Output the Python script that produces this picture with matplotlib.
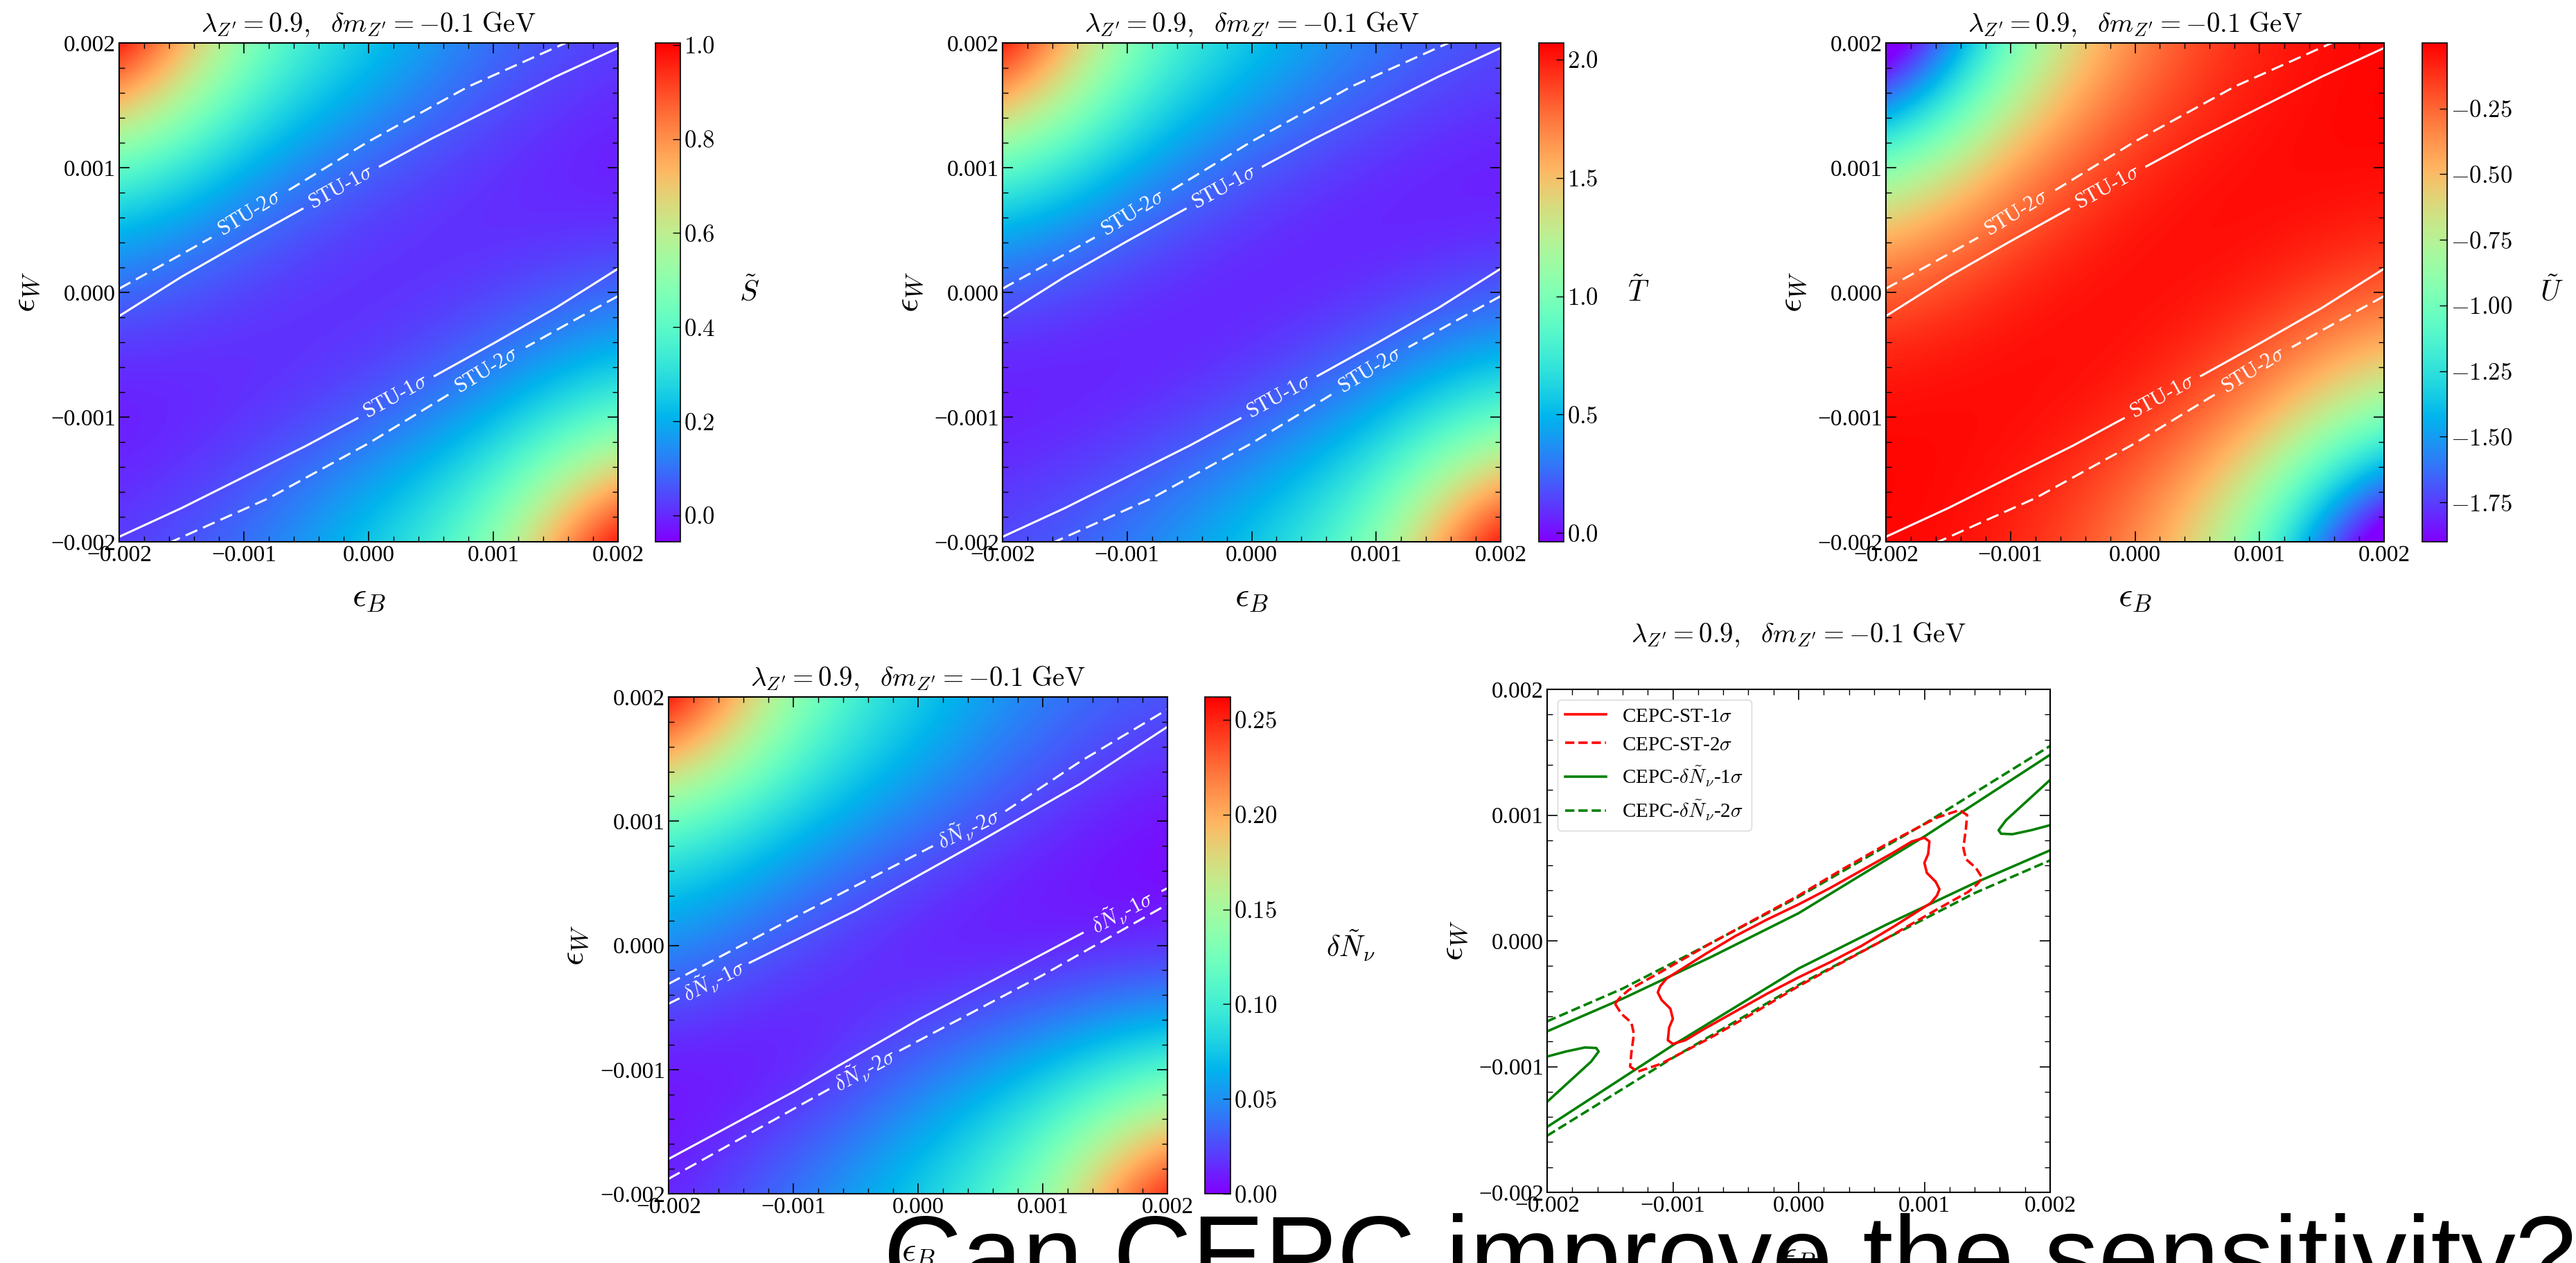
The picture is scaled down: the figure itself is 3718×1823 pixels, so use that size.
import numpy as np
import matplotlib
matplotlib.use('Agg')
import matplotlib.pyplot as plt
from matplotlib.ticker import MultipleLocator, AutoMinorLocator, FuncFormatter

plt.rcParams['font.family'] = 'serif'
plt.rcParams['font.serif'] = ['Liberation Serif', 'DejaVu Serif']
plt.rcParams['mathtext.fontset'] = 'cm'

# grid nodes (eps_B columns, eps_W rows from top to bottom)
eps_nodes = [-0.002, -0.001, 0.0, 0.001, 0.002]

# field values
S_grid = [[1.20, 0.48, 0.27, 0.10, 0.03],
          [0.38, 0.17, 0.05, -0.01, -0.045],
          [0.07, 0.01, -0.02, 0.01, 0.07],
          [-0.045, -0.01, 0.05, 0.17, 0.38],
          [0.03, 0.10, 0.27, 0.48, 1.20]]
T_grid = [[2.45, 1.00, 0.60, 0.32, 0.17],
          [0.85, 0.42, 0.17, 0.04, 0.0],
          [0.15, 0.05, 0.0, 0.05, 0.15],
          [0.0, 0.04, 0.17, 0.42, 0.85],
          [0.17, 0.32, 0.60, 1.00, 2.45]]
U_grid = [[-2.50, -1.00, -0.33, -0.07, -0.01],
          [-0.92, -0.33, -0.06, -0.005, 0.0],
          [-0.18, -0.04, 0.0, -0.04, -0.18],
          [0.0, -0.005, -0.06, -0.33, -0.92],
          [-0.01, -0.07, -0.33, -1.00, -2.50]]
N_grid = [[0.31, 0.135, 0.08, 0.045, 0.03],
          [0.11, 0.07, 0.04, 0.015, 0.0],
          [0.052, 0.021, 0.0, 0.0, 0.005],
          [0.0, 0.0, 0.035, 0.065, 0.10],
          [0.01, 0.045, 0.08, 0.135, 0.30]]

S_range = (-0.056, 1.004)
T_range = (-0.037, 2.07)
U_range = (-1.90, 0.0)
N_range = (0.0, 0.262)

S_ticks = [0.0, 0.2, 0.4, 0.6, 0.8, 1.0]
T_ticks = [0.0, 0.5, 1.0, 1.5, 2.0]
U_ticks = [-1.75, -1.5, -1.25, -1.0, -0.75, -0.5, -0.25]
N_ticks = [0.0, 0.05, 0.10, 0.15, 0.20, 0.25]

# STU contours (split where the inline label sits)
stu1_up = [([-0.002, -0.0015, -0.001, -0.00053], [-0.00019, 0.000125, 0.00041, 0.00067]),
           ([0.00009, 0.0005, 0.001, 0.0015, 0.002], [0.00101, 0.00123, 0.00148, 0.00173, 0.00196])]
stu2_up = [([-0.002, -0.0016, -0.00126], [0.00003, 0.00025, 0.00044]),
           ([-0.00064, 0.0, 0.0008, 0.00158], [0.00082, 0.00121, 0.00165, 0.002])]
stu1_lo = [([0.002, 0.0015, 0.001, 0.00053], [0.00019, -0.000125, -0.00041, -0.00067]),
           ([-0.00009, -0.0005, -0.001, -0.0015, -0.002], [-0.00101, -0.00123, -0.00148, -0.00173, -0.00196])]
stu2_lo = [([0.002, 0.0016, 0.00126], [-0.00003, -0.00025, -0.00044]),
           ([0.00064, 0.0, -0.0008, -0.00158], [-0.00082, -0.00121, -0.00165, -0.002])]

# delta N_nu contours
dn1_up = [([-0.002, -0.00192], [-0.00047, -0.00043]),
          ([-0.00135, -0.0005, 0.0005, 0.0013, 0.002], [-0.00014, 0.00028, 0.00084, 0.0013, 0.00176])]
dn2_up = [([-0.002, -0.001, 0.00012], [-0.00031, 0.00022, 0.0008]),
          ([0.0007, 0.0013, 0.002], [0.00108, 0.00148, 0.0019])]
dn1_lo = [([-0.002, -0.001, 0.0, 0.00132], [-0.00172, -0.00118, -0.0006, 0.0001]),
          ([0.00196, 0.002], [0.00044, 0.00046])]
dn2_lo = [([-0.002, -0.0007], [-0.00188, -0.00115]),
          ([-0.00015, 0.001, 0.002], [-0.00085, -0.00024, 0.00033])]

# CEPC projections
st1_x = [-0.00105, -0.00075, -0.0005, -0.00025, 0.0, 0.00025, 0.0005, 0.00075, 0.0009, 0.00100,
         0.00104, 0.00103, 0.00100, 0.00102, 0.00109, 0.00112, 0.00110, 0.00105,
         0.00075, 0.0005, 0.00025, 0.0, -0.00025, -0.0005, -0.00075, -0.0009, -0.00100,
         -0.00104, -0.00103, -0.00100, -0.00102, -0.00109, -0.00112, -0.00110, -0.00105]
st1_y = [-0.00030, -0.00011, 0.00004, 0.00017, 0.00029, 0.00042, 0.00056, 0.00070, 0.00079, 0.00082,
         0.00079, 0.00069, 0.00062, 0.00054, 0.00047, 0.00041, 0.00036, 0.00030,
         0.00011, -0.00004, -0.00017, -0.00029, -0.00042, -0.00056, -0.00070, -0.00079, -0.00082,
         -0.00079, -0.00069, -0.00062, -0.00054, -0.00047, -0.00041, -0.00036, -0.00030]
st2_x = [-0.00146, -0.00142, -0.00135, -0.0011, -0.0007, -0.00035, 0.0, 0.00035, 0.0007, 0.0011, 0.00128,
         0.00134, 0.00133, 0.00131, 0.00133, 0.00141, 0.00146,
         0.00142, 0.00135, 0.0011, 0.0007, 0.00035, 0.0, -0.00035, -0.0007, -0.0011, -0.00128,
         -0.00134, -0.00133, -0.00131, -0.00133, -0.00141, -0.00146]
st2_y = [-0.0005, -0.00045, -0.00039, -0.00025, -0.00002, 0.00017, 0.00036, 0.00057, 0.00077, 0.00098, 0.00104,
         0.0010, 0.00089, 0.00074, 0.00065, 0.00058, 0.0005,
         0.00045, 0.00039, 0.00025, 0.00002, -0.00017, -0.00036, -0.00057, -0.00077, -0.00098, -0.00104,
         -0.0010, -0.00089, -0.00074, -0.00065, -0.00058, -0.0005]
gn1_bands = [([-0.002, -0.0014, -0.0007, 0.0, 0.001, 0.002], [-0.00072, -0.00046, -0.00013, 0.00022, 0.00083, 0.00148]),
             ([-0.002, -0.001, 0.0, 0.0007, 0.0014, 0.002], [-0.00148, -0.00083, -0.00022, 0.00013, 0.00046, 0.00072])]
gn2_bands = [([-0.002, -0.0014, -0.0007, 0.0, 0.001, 0.002], [-0.00064, -0.00038, -0.00002, 0.00035, 0.00093, 0.00155]),
             ([-0.002, -0.001, 0.0, 0.0007, 0.0014, 0.002], [-0.00155, -0.00093, -0.00035, 0.00002, 0.00038, 0.00064])]
gn1_islands = [([-0.002, -0.00185, -0.0017, -0.00161, -0.00159, -0.00165, -0.00177, -0.002],
                [-0.00092, -0.00088, -0.000848, -0.000852, -0.00088, -0.00096, -0.00107, -0.00128]),
               ([0.002, 0.00185, 0.0017, 0.00161, 0.00159, 0.00165, 0.00177, 0.002],
                [0.00092, 0.00088, 0.000848, 0.000852, 0.00088, 0.00096, 0.00107, 0.00128])]

title = r'$\lambda_{Z^{\prime}}=0.9,\ \ \delta m_{Z^{\prime}}=-0.1\ \mathrm{GeV}$'

W, H = 3718, 1823
fig = plt.figure(figsize=(W / 100, H / 100), dpi=100)


def px_axes(x0, x1, y0, y1):
    return fig.add_axes([x0 / W, 1 - y1 / H, (x1 - x0) / W, (y1 - y0) / H])


def tick_fmt(v, p):
    if abs(v) < 1e-9:
        v = 0.0
    return f'{v:.3f}'.replace('-', '\u2212')


def frame(ax, tpad, xl_y, yl_x):
    ax.set_xlim(-0.002, 0.002)
    ax.set_ylim(-0.002, 0.002)
    for a in (ax.xaxis, ax.yaxis):
        a.set_major_locator(MultipleLocator(0.001))
        a.set_minor_locator(AutoMinorLocator(5))
        a.set_major_formatter(FuncFormatter(tick_fmt))
    ax.tick_params(which='both', direction='in', top=True, right=True, labelsize=24)
    ax.tick_params(which='major', length=11, width=1.2)
    ax.tick_params(which='minor', length=6, width=1.0)
    for s in ax.spines.values():
        s.set_linewidth(1.5)
    ax.set_xlabel(r'$\epsilon_B$', fontsize=36)
    ax.set_ylabel(r'$\epsilon_W$', fontsize=36)
    ax.xaxis.set_label_coords(0.5, xl_y)
    ax.yaxis.set_label_coords(yl_x, 0.5)
    ax.set_title(title, fontsize=28, pad=tpad)


def heat(ax, grid, rng):
    step = eps_nodes[1] - eps_nodes[0]
    ext = [eps_nodes[0] - step / 2, eps_nodes[-1] + step / 2,
           eps_nodes[0] - step / 2, eps_nodes[-1] + step / 2]
    im = ax.imshow(np.array(grid), extent=ext, origin='upper', cmap='rainbow',
                   vmin=rng[0], vmax=rng[1], interpolation='bicubic',
                   interpolation_stage='data', aspect='auto')
    return im


def cbar(im, cax, ticks, dec, label, lab_x):
    cb = fig.colorbar(im, cax=cax, ticks=ticks)
    cb.ax.yaxis.set_major_formatter(FuncFormatter(lambda v, p: f'${v:.{dec}f}$'))
    cb.ax.tick_params(direction='in', length=8, width=1.0, labelsize=25)
    cb.outline.set_linewidth(1.2)
    cb.ax.text(lab_x, 0.5, label, transform=cb.ax.transAxes, fontsize=30,
               ha='center', va='center')


def contour_set(ax, segs, dashed, labels):
    w_px = ax.get_position().width * W
    h_px = ax.get_position().height * H
    for xs, ys in segs:
        ln, = ax.plot(xs, ys, color='white', lw=2.2)
        if dashed:
            ln.set_dashes((6, 3))
    (xa, ya), (xb, yb) = segs[0], segs[1]
    p, q = (xa[-1], ya[-1]), (xb[0], yb[0])
    ang = np.degrees(np.arctan2((q[1] - p[1]) * h_px, (q[0] - p[0]) * w_px))
    if ang > 90:
        ang -= 180
    if ang < -90:
        ang += 180
    ax.text((p[0] + q[0]) / 2, (p[1] + q[1]) / 2, labels, color='white', fontsize=22,
            rotation=ang, rotation_mode='anchor', ha='center', va='center')


# top row
tops = [(172, 892, 946, 982, S_grid, S_range, S_ticks, 1, r'$\tilde{S}$', 3.75),
        (1447, 2166, 2221, 2257, T_grid, T_range, T_ticks, 1, r'$\tilde{T}$', 4.0),
        (2722, 3441, 3496, 3532, U_grid, U_range, U_ticks, 2, r'$\tilde{U}$', 5.2)]
for x0, x1, c0, c1, grid, rng, ticks, dec, lab, lx in tops:
    ax = px_axes(x0, x1, 62, 782)
    im = heat(ax, grid, rng)
    frame(ax, 12, -0.08, -0.155)
    contour_set(ax, stu2_up, True, r'STU-2$\sigma$')
    contour_set(ax, stu1_up, False, r'STU-1$\sigma$')
    contour_set(ax, stu1_lo, False, r'STU-1$\sigma$')
    contour_set(ax, stu2_lo, True, r'STU-2$\sigma$')
    cax = px_axes(c0, c1, 62, 782)
    cbar(im, cax, ticks, dec, lab, lx)

# bottom left
ax4 = px_axes(965, 1685, 1006, 1723)
im4 = heat(ax4, N_grid, N_range)
frame(ax4, 12, -0.086, -0.156)
contour_set(ax4, dn2_up, True, r'$\delta\tilde{N}_\nu$-2$\sigma$')
contour_set(ax4, dn1_up, False, r'$\delta\tilde{N}_\nu$-1$\sigma$')
contour_set(ax4, dn1_lo, False, r'$\delta\tilde{N}_\nu$-1$\sigma$')
contour_set(ax4, dn2_lo, True, r'$\delta\tilde{N}_\nu$-2$\sigma$')
cax4 = px_axes(1739, 1776, 1006, 1723)
cbar(im4, cax4, N_ticks, 2, r'$\delta\tilde{N}_\nu$', 5.7)

# bottom right
ax5 = px_axes(2233, 2959, 995, 1721)
frame(ax5, 49, -0.095, -0.154)
for i, (xs, ys) in enumerate(gn1_bands + gn1_islands):
    ax5.plot(xs, ys, color='green', lw=2.6, label=r'CEPC-$\delta\tilde{N}_\nu$-1$\sigma$' if i == 0 else None)
for i, (xs, ys) in enumerate(gn2_bands):
    ax5.plot(xs, ys, color='green', lw=2.6, ls='--', label=r'CEPC-$\delta\tilde{N}_\nu$-2$\sigma$' if i == 0 else None)
ax5.plot(st1_x, st1_y, color='red', lw=2.6, label=r'CEPC-ST-1$\sigma$')
ax5.plot(st2_x, st2_y, color='red', lw=2.6, ls='--', label=r'CEPC-ST-2$\sigma$')
h, l = ax5.get_legend_handles_labels()
order = [2, 3, 0, 1]
ax5.legend([h[k] for k in order], [l[k] for k in order], loc='upper left', fontsize=21)

fig.text(1275 / W, (H - 1865) / H, 'Can CEPC improve the sensitivity?', fontsize=113,
         family='Liberation Sans', ha='left', va='baseline', color='black')

fig.savefig('out.png', dpi=100, facecolor='white')
